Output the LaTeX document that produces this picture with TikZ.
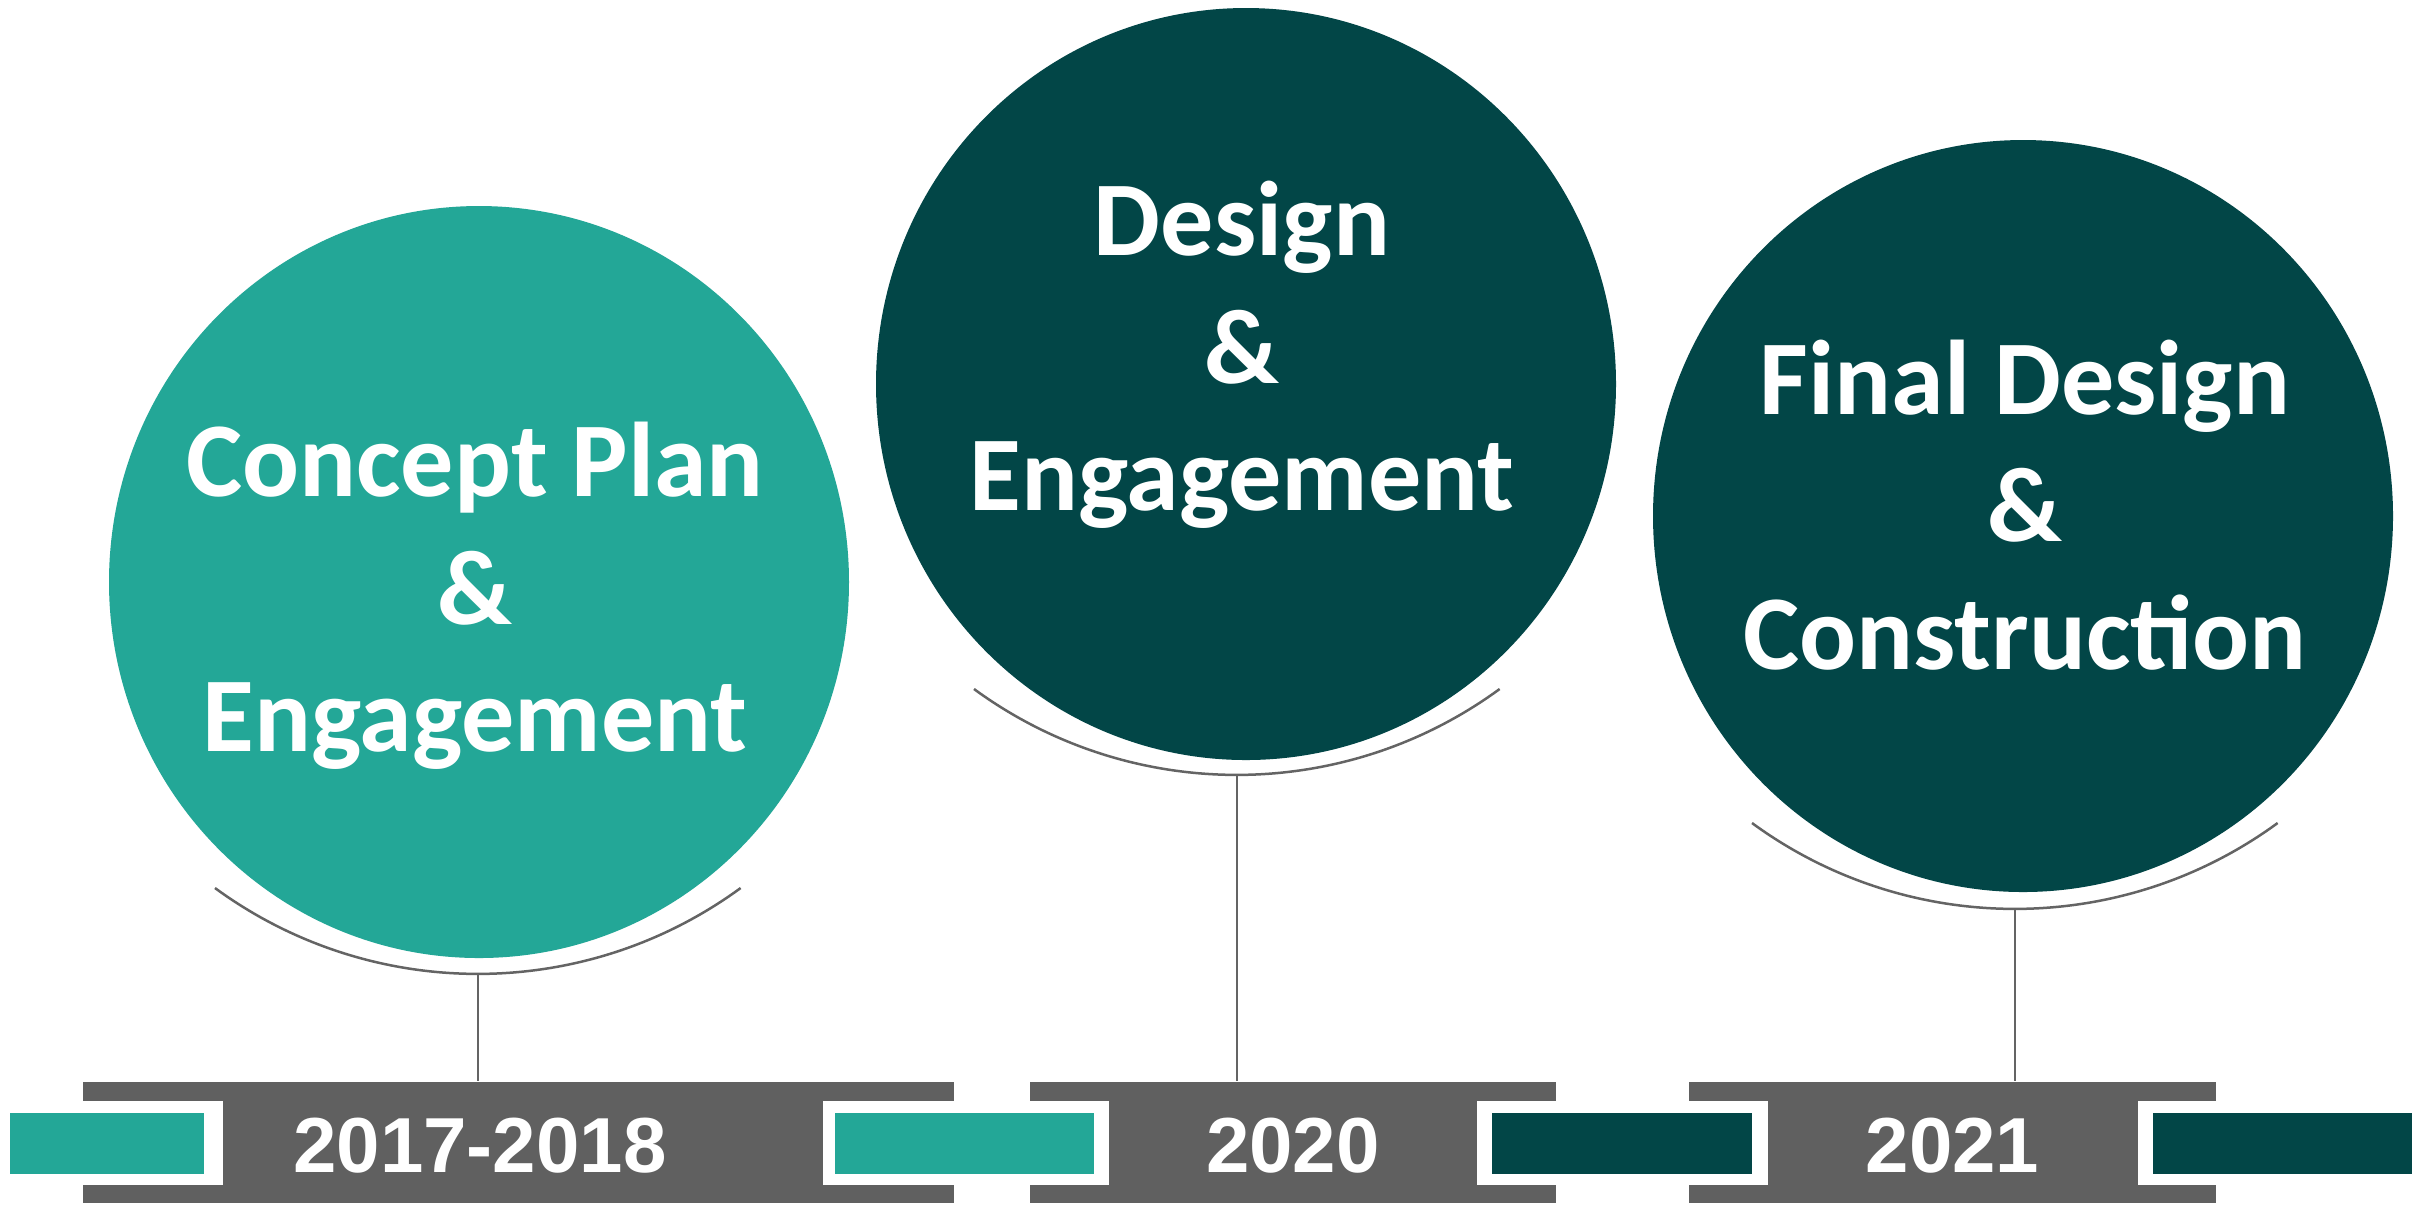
\documentclass[tikz,border=0pt]{standalone}
\usepackage{fontspec}
\setmainfont{Carlito}
\newfontfamily\yearfont{Liberation Sans}
\definecolor{phaseteal}{RGB}{35, 167, 151}
\definecolor{phasedark}{RGB}{2, 70, 71}
\definecolor{bargray}{RGB}{96, 96, 96}
\definecolor{linegray}{RGB}{100, 100, 100}
\usepackage{tikz}
\usetikzlibrary{shapes, arrows.meta, positioning, calc}

\begin{document}
\begin{tikzpicture}[x=0.1mm, y=-0.1mm,
    phase/.style={ellipse, draw=none, inner sep=0pt, minimum width=74mm, minimum height=75.2mm},
    phasetext/.style={text=white, align=center, font=\fontsize{30.2pt}{36.3pt}\selectfont\bfseries},
    yearbar/.style={rectangle, fill=bargray, inner sep=0pt, minimum height=12.1mm},
    yeartext/.style={text=white, anchor=base, inner sep=0pt, font=\yearfont\fontsize{22.2pt}{26pt}\selectfont\bfseries},
    cradle/.style={draw=linegray, line width=0.25mm},
    stem/.style={draw=linegray, line width=0.25mm}]
  \path[fill=white] (0,0) rectangle (2420,1204);
  \useasboundingbox (0,0) rectangle (2420,1204);

  % phases
  \node[phase, fill=phaseteal] (concept) at (479,582) {};
  \node[phase, fill=phasedark] (design) at (1246,384) {};
  \node[phase, fill=phasedark] (final) at (2023,516) {};
  \node[phasetext] (concepttext) at (475,596) {Concept Plan\\\&\\Engagement};
  \node[phasetext] (designtext) at (1242,355) {Design\\\&\\Engagement};
  \node[phasetext] (finaltext) at (2025,505) {Final Design\\\&\\Construction};

  % timeline bars
  \node[yearbar, minimum width=87.1mm] (bar1) at (518.5,1142.5) {};
  \node[yearbar, minimum width=52.6mm] (bar2) at (1293,1142.5) {};
  \node[yearbar, minimum width=52.7mm] (bar3) at (1952.5,1142.5) {};
  \fill[white] (0,1101) rectangle (223,1185);
  \fill[white] (823,1101) rectangle (1109,1185);
  \fill[white] (1477,1101) rectangle (1768,1185);
  \fill[white] (2138,1101) rectangle (2420,1185);
  \fill[phaseteal] (10,1113) rectangle (204,1174);
  \fill[phaseteal] (835,1113) rectangle (1094,1174);
  \fill[phasedark] (1492,1113) rectangle (1752,1174);
  \fill[phasedark] (2153,1113) rectangle (2412,1174);
  \node[yeartext] (year1) at (480,1172) {2017-2018};
  \node[yeartext] (year2) at (1293,1172) {2020};
  \node[yeartext] (year3) at (1952.5,1172) {2021};

  % cradles and stems
  \coordinate (rest1) at (478,974);
  \coordinate (rest2) at (1237,775);
  \coordinate (rest3) at (2015,909);
  \foreach \i in {1,2,3} {
    \draw[cradle] (rest\i) ++(-263,-86) arc[start angle=126.2, end angle=53.8, radius=445];
    \draw[stem] (rest\i) -- (rest\i |- bar\i.north);
  }
\end{tikzpicture}
\end{document}
